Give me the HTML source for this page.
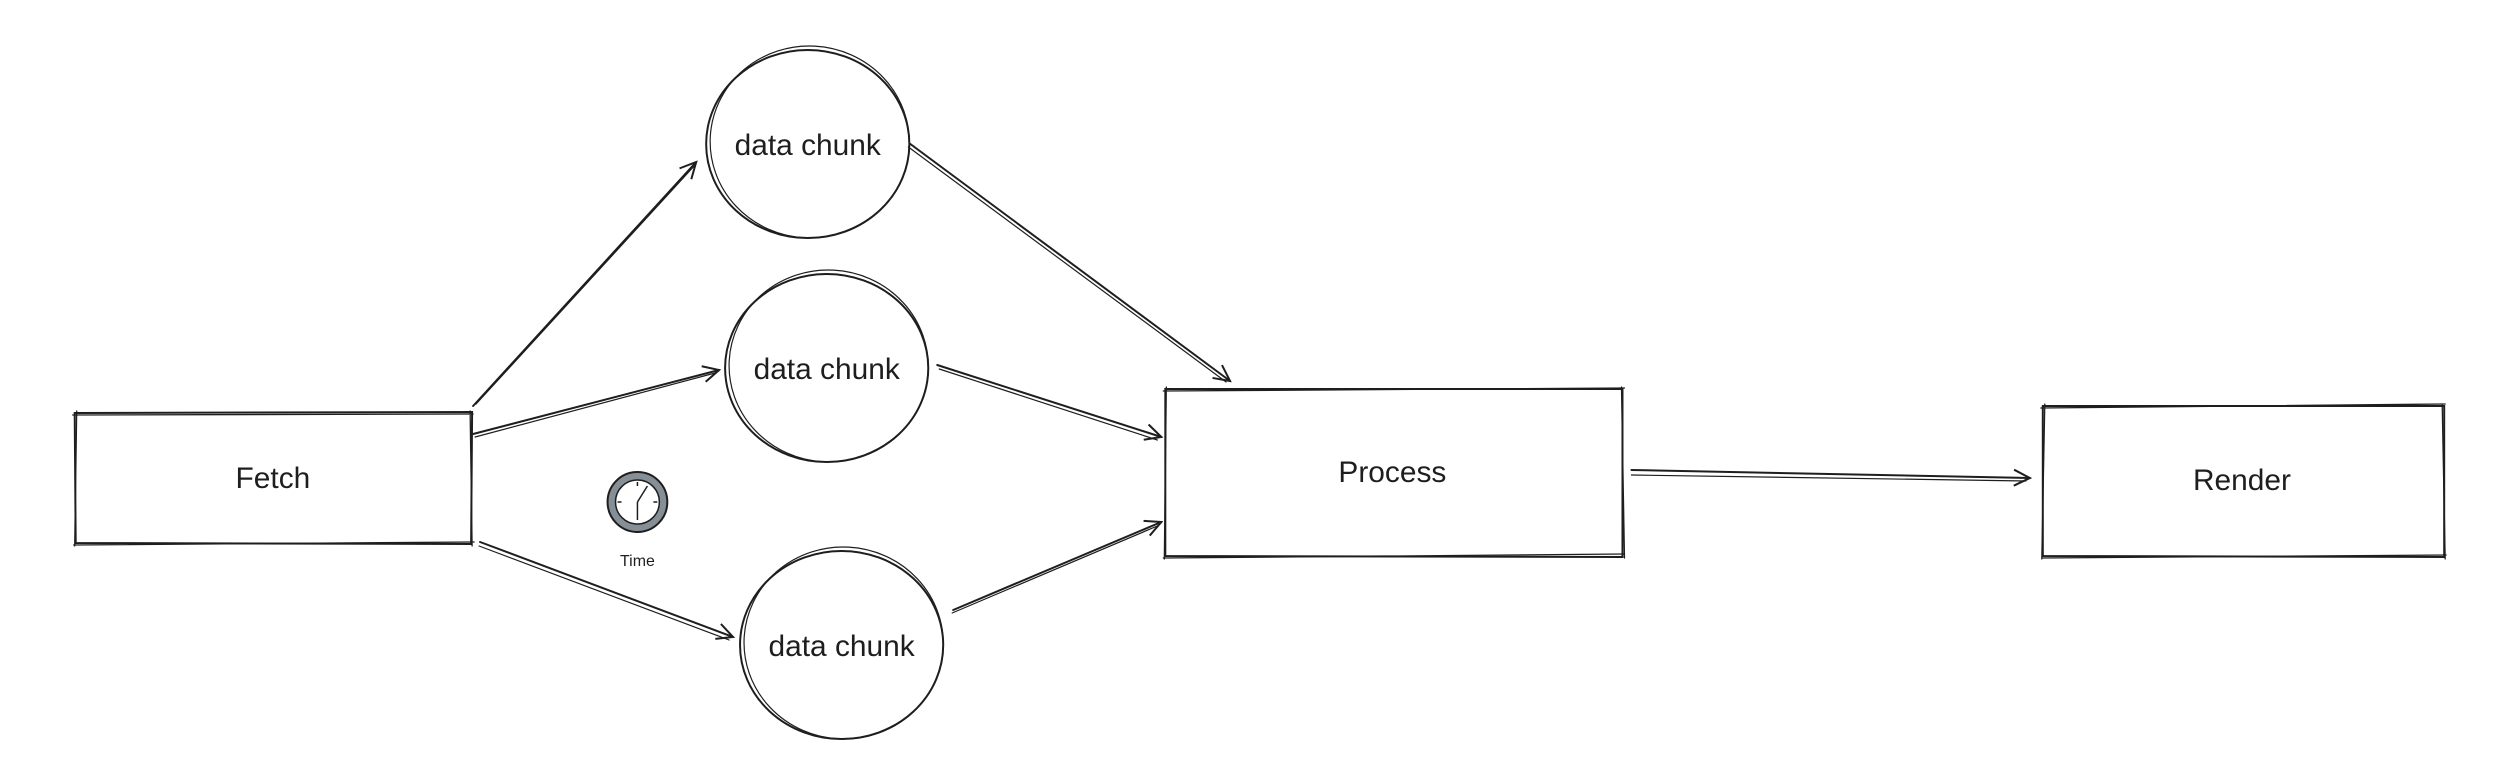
<!DOCTYPE html>
<html><head><meta charset="utf-8"><style>
html,body{margin:0;padding:0;background:#fff;}
svg{display:block}
text{font-family:"Liberation Sans",sans-serif;fill:#1e1e1e}
</style></head><body>
<svg width="2498" height="758" viewBox="0 0 2498 758" xmlns="http://www.w3.org/2000/svg">
<defs>
<marker id="a" viewBox="0 0 20 20" refX="18" refY="10" markerWidth="20" markerHeight="20" markerUnits="userSpaceOnUse" orient="auto">
<path d="M2 2 L18 10 L2 18" fill="none" stroke="#1e1e1e" stroke-width="2"/>
</marker>
</defs>
<g transform="scale(0.996,1)">
<g fill="none" stroke="#1e1e1e" stroke-width="2" stroke-linecap="round">
<path d="M75 413 L474 412 L473 544 L76 543 Z"/>
<path d="M73 415 L475 414 M472 411 L474 546 M74 545 L476 542 M77 411 L75 546" stroke-width="1.3"/>
<path d="M1170 389 L1629 389 L1629 557 L1170 556 Z"/>
<path d="M1168 391 L1631 388 M1628 387 L1631 558 M1168 558 L1630 554 M1171 387 L1169 559" stroke-width="1.3"/>
<path d="M2051 406 L2454 406 L2454 557 L2051 556 Z"/>
<path d="M2049 408 L2455 404 M2452 404 L2455 559 M2050 558 L2456 555 M2053 404 L2050 559" stroke-width="1.3"/>
<ellipse cx="811" cy="144" rx="102" ry="94"/>
<ellipse cx="813" cy="142" rx="100" ry="96" stroke-width="1.2" transform="rotate(3 813 142)"/>
<ellipse cx="830" cy="368" rx="102" ry="94"/>
<ellipse cx="832" cy="366" rx="100" ry="96" stroke-width="1.2" transform="rotate(3 832 366)"/>
<ellipse cx="845" cy="645" rx="102" ry="94"/>
<ellipse cx="847" cy="643" rx="100" ry="96" stroke-width="1.2" transform="rotate(3 847 643)"/>
<g marker-end="url(#a)">
<path d="M475 406 L699 162"/>
<path d="M475 434 L722 370"/>
<path d="M482 542 L736 637"/>
<path d="M914 144 L1235 381"/>
<path d="M941 365 L1166 437"/>
<path d="M957 610 L1166 522"/>
<path d="M1638 470 L2038 478"/>
</g>
<g stroke-width="1.2">
<path d="M478 404 L697 166"/>
<path d="M477 437 L718 373"/>
<path d="M481 546 L732 640"/>
<path d="M912 147 L1231 382"/>
<path d="M943 369 L1162 440"/>
<path d="M956 613 L1162 526"/>
<path d="M1638 475 L2034 481"/>
</g>
</g>
<circle cx="640" cy="502" r="30" fill="#868e96" stroke="#1e1e1e" stroke-width="2"/>
<circle cx="640" cy="502" r="22" fill="#fff" stroke="#1e1e1e" stroke-width="1.5"/>
<g stroke="#1e1e1e" stroke-width="1.5">
<line x1="640" y1="502" x2="640" y2="520"/>
<line x1="640" y1="502" x2="650" y2="486"/>
<line x1="640" y1="482" x2="640" y2="486"/>
<line x1="620" y1="502" x2="624" y2="502"/>
<line x1="656" y1="502" x2="660" y2="502"/>
</g>
<text x="640" y="566" font-size="16" text-anchor="middle">Time</text>
<g font-size="30" text-anchor="middle">
<text x="274" y="488">Fetch</text>
<text x="811" y="155">data chunk</text>
<text x="830" y="379">data chunk</text>
<text x="845" y="656">data chunk</text>
<text x="1398" y="482">Process</text>
<text x="2251" y="490">Render</text>
</g>
</g>
</svg>
</body></html>
